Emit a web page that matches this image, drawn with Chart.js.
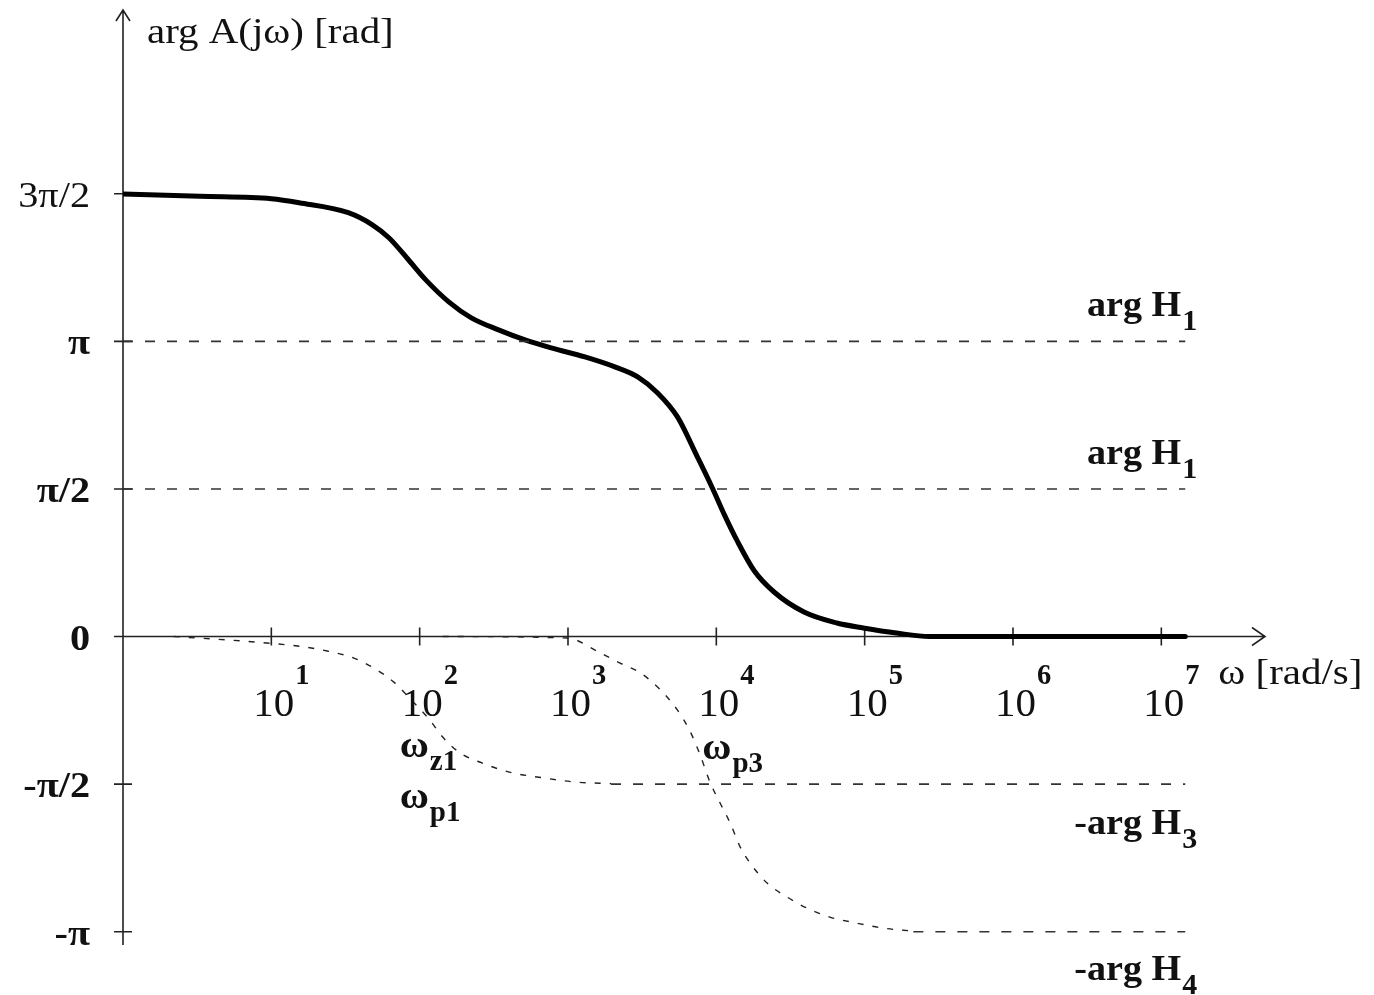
<!DOCTYPE html>
<html>
<head>
<meta charset="utf-8">
<title>arg A(jω)</title>
<script src="https://cdn.jsdelivr.net/npm/chart.js@4.4.1/dist/chart.umd.min.js"></script>
<style>
  html, body { margin: 0; padding: 0; background: #fff; }
</style>
</head>
<body>
<canvas id="phaseChart" width="1374" height="995"></canvas>
<script>
// Curva principal arg A(jω)
const argAOmega = [1, 3.3, 10, 15.4, 33, 48, 62, 84, 110, 157, 223, 340, 514, 770, 1300,
  2070, 2950, 4020, 5470, 7450, 9400, 11300, 13800, 18000, 24500, 39000, 65000, 98000,
  164000, 273000, 1.45e7];
const argAPhase = [4.71, 4.685, 4.66, 4.617, 4.511, 4.382, 4.244, 4.01, 3.796, 3.562, 3.392,
  3.264, 3.157, 3.072, 2.976, 2.87, 2.764, 2.593, 2.338, 1.912, 1.581, 1.3, 1.02, 0.7,
  0.474, 0.261, 0.144, 0.091, 0.037, 0, 0];

// -arg H3 (curva discontinua hacia -π/2)
const argH3Omega = [2.2, 7.9, 16.9, 23.8, 36, 49, 67, 88, 117, 143, 188, 265, 402, 701, 1130, 1950];
const argH3Phase = [0, -0.059, -0.112, -0.154, -0.229, -0.335, -0.485, -0.676, -0.889, -1.07,
  -1.241, -1.347, -1.443, -1.507, -1.549, -1.565];
const argH3TailOmega = [1950, 1.45e7];
const argH3TailPhase = [-1.571, -1.571];

// -arg H4 (curva discontinua hacia -π)
const argH4Omega = [143, 985, 1660, 2170, 3090, 4210, 5470, 6590, 7690, 9120, 10600, 12400,
  14500, 16900, 22000, 30000, 40800, 58200, 88300, 134000, 213000];
const argH4Phase = [0, -0.016, -0.176, -0.272, -0.389, -0.57, -0.783, -0.996, -1.24, -1.56,
  -1.772, -1.985, -2.241, -2.411, -2.624, -2.773, -2.89, -2.986, -3.05, -3.104, -3.135];
const argH4TailOmega = [213000, 1.45e7];
const argH4TailPhase = [-3.1416, -3.1416];

// Rectas arg H1 (π y π/2)
const argH1Omega = [1, 1.45e7];
const argH1Levels = [3.1416, 1.5708];

// Ejes
const xTickExp = [1, 2, 3, 4, 5, 6, 7];
const yTickValues = [4.7124, 3.1416, 1.5708, 0, -1.5708, -3.1416];
const yTickLabels = ['3π/2', 'π', 'π/2', '0', '-π/2', '-π'];
const yTitle = 'arg A(jω) [rad]';
const xTitle = 'ω [rad/s]';
const curveLabels = ['arg H', '1', 'arg H', '1', '-arg H', '3', '-arg H', '4'];

const SERIF = '"Liberation Serif", "Times New Roman", serif';
const INK = '#111';

function pts(xs, ys) {
  return xs.map((x, i) => ({ x: x, y: ys[i] }));
}

// Texto con un ligero estiramiento horizontal, como en la figura original
function txt(ctx, s, x, y, font, align, sx) {
  sx = sx || 1;
  ctx.save();
  ctx.font = font;
  ctx.fillStyle = INK;
  ctx.textBaseline = 'alphabetic';
  const w = ctx.measureText(s).width * sx;
  let x0 = x;
  if (align === 'right') x0 = x - w;
  else if (align === 'center') x0 = x - w / 2;
  ctx.translate(x0, y);
  ctx.scale(sx, 1);
  ctx.fillText(s, 0, 0);
  ctx.restore();
  return w;
}

const axesPlugin = {
  id: 'axesPlugin',
  beforeDatasetsDraw(chart) {
    const ctx = chart.ctx;
    const xs = chart.scales.x, ys = chart.scales.y;
    const ox = xs.getPixelForValue(1);
    const oy = ys.getPixelForValue(0);
    const top = chart.chartArea.top, bottom = chart.chartArea.bottom, right = chart.chartArea.right;
    ctx.save();
    ctx.strokeStyle = '#222';
    ctx.lineWidth = 1.6;
    ctx.beginPath();
    // eje vertical con flecha
    ctx.moveTo(ox, bottom); ctx.lineTo(ox, top);
    ctx.moveTo(ox - 7, top + 11); ctx.lineTo(ox, top); ctx.lineTo(ox + 7, top + 11);
    // eje horizontal con flecha
    ctx.moveTo(ox - 8, oy); ctx.lineTo(right, oy);
    ctx.moveTo(right - 13, oy - 9); ctx.lineTo(right, oy); ctx.lineTo(right - 13, oy + 9);
    // marcas
    yTickValues.forEach(v => {
      const py = ys.getPixelForValue(v);
      ctx.moveTo(ox - 9, py); ctx.lineTo(ox + 9, py);
    });
    xTickExp.forEach(e => {
      const px = xs.getPixelForValue(Math.pow(10, e));
      ctx.moveTo(px, oy - 9); ctx.lineTo(px, oy + 9);
    });
    ctx.stroke();
    ctx.restore();
  },
  afterDraw(chart) {
    const ctx = chart.ctx;
    const xs = chart.scales.x, ys = chart.scales.y;
    const ox = xs.getPixelForValue(1);
    const oy = ys.getPixelForValue(0);

    // etiquetas del eje vertical
    yTickLabels.forEach((lab, i) => {
      const py = ys.getPixelForValue(yTickValues[i]);
      const font = lab === '3π/2' ? '35px ' : 'bold 35px ';
      txt(ctx, lab, ox - 33, py + 13, font + SERIF, 'right', 1.15);
    });

    // etiquetas 10^n
    xTickExp.forEach(e => {
      const px = xs.getPixelForValue(Math.pow(10, e));
      txt(ctx, '10', px - 18, oy + 79, '41px ' + SERIF, 'left', 1);
      txt(ctx, String(e), px + 24, oy + 47, 'bold 30px ' + SERIF, 'left', 0.95);
    });

    // títulos de los ejes
    txt(ctx, yTitle, ox + 24, 43, '35px ' + SERIF, 'left', 1.17);
    const x7 = xs.getPixelForValue(1e7);
    txt(ctx, xTitle, x7 + 57, oy + 47, '35px ' + SERIF, 'left', 1.17);

    // nombres de las curvas, alineados a la derecha
    const xr = xs.getPixelForValue(argH1Omega[1]) + 12;
    const labelY = [ys.getPixelForValue(argH1Levels[0]) - 25, ys.getPixelForValue(argH1Levels[1]) - 25,
      ys.getPixelForValue(argH3TailPhase[0]) + 50, ys.getPixelForValue(argH4TailPhase[0]) + 48];
    for (let i = 0; i < 4; i++) {
      ctx.save();
      ctx.font = 'bold 30px ' + SERIF;
      const wSub = ctx.measureText(curveLabels[2 * i + 1]).width;
      ctx.restore();
      txt(ctx, curveLabels[2 * i], xr - wSub - 1, labelY[i], 'bold 36px ' + SERIF, 'right', 1.06);
      txt(ctx, curveLabels[2 * i + 1], xr - wSub, labelY[i] + 14, 'bold 30px ' + SERIF, 'left', 1);
    }

    // frecuencias características
    const x2 = xs.getPixelForValue(100) - 20;
    const x4 = xs.getPixelForValue(1e4) - 14;
    const marks = [[x2, 'z1', 757], [x2, 'p1', 808], [x4, 'p3', 759]];
    marks.forEach(m => {
      const w = txt(ctx, 'ω', m[0], m[2], 'bold 38px ' + SERIF, 'left', 1.05);
      txt(ctx, m[1], m[0] + w + 1, m[2] + 13, 'bold 29px ' + SERIF, 'left', 1);
    });
  }
};

const thinDash = { borderColor: '#222', borderWidth: 1.4, borderDash: [6, 9], pointRadius: 0, fill: false, cubicInterpolationMode: 'monotone' };
const longDash = { borderColor: '#333', borderWidth: 1.6, borderDash: [10, 12], pointRadius: 0, fill: false, tension: 0 };

const datasets = [
  Object.assign({ label: 'arg H1 (π)', data: pts(argH1Omega, [argH1Levels[0], argH1Levels[0]]) }, longDash),
  Object.assign({ label: 'arg H1 (π/2)', data: pts(argH1Omega, [argH1Levels[1], argH1Levels[1]]) }, longDash),
  Object.assign({ label: '-arg H3', data: pts(argH3Omega, argH3Phase) }, thinDash),
  Object.assign({ label: '-arg H3 asíntota', data: pts(argH3TailOmega, argH3TailPhase) }, longDash),
  Object.assign({ label: '-arg H4', data: pts(argH4Omega, argH4Phase) }, thinDash),
  Object.assign({ label: '-arg H4 asíntota', data: pts(argH4TailOmega, argH4TailPhase) }, longDash),
  {
    label: 'arg A(jω)',
    data: pts(argAOmega, argAPhase),
    borderColor: '#000',
    borderWidth: 5,
    pointRadius: 0,
    fill: false,
    cubicInterpolationMode: 'monotone',
    borderCapStyle: 'round'
  }
];

const ctxPhase = document.getElementById('phaseChart').getContext('2d');
new Chart(ctxPhase, {
  type: 'line',
  data: { datasets: datasets },
  options: {
    responsive: false,
    animation: false,
    devicePixelRatio: 1,
    events: [],
    layout: { padding: { left: 123, right: 109, top: 10, bottom: 50 } },
    plugins: { legend: { display: false }, tooltip: { enabled: false } },
    scales: {
      x: { type: 'logarithmic', min: 1, max: 5.0e7, display: false },
      y: { type: 'linear', min: -3.283, max: 6.668, display: false }
    }
  },
  plugins: [axesPlugin]
});
</script>
</body>
</html>
